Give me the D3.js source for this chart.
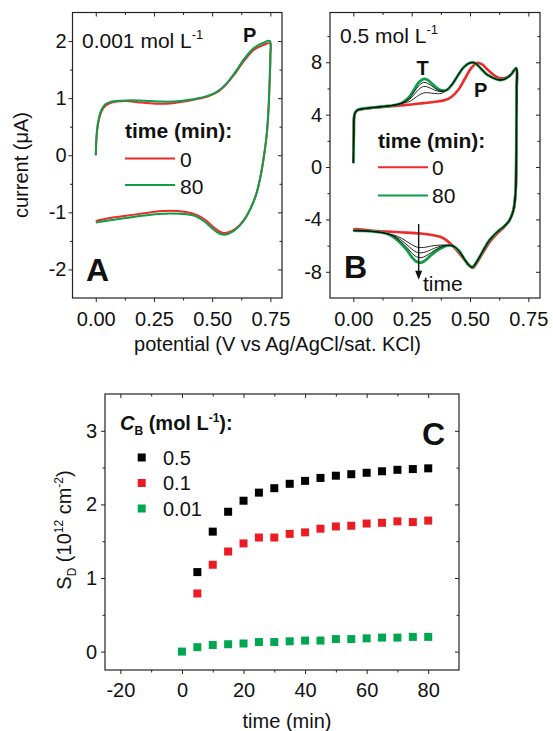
<!DOCTYPE html>
<html>
<head>
<meta charset="utf-8">
<script src="https://cdn.jsdelivr.net/npm/d3@7"></script>
<style>
body { margin: 0; background: #fff; }
svg { display: block; font-family: "Liberation Sans", Arial, sans-serif; }
</style>
</head>
<body>
<svg></svg>
<script>
var width = 553;
var height = 731;

// ---- panel A : 0.001 mol/L, [potential (V), current (uA)]
var aRed = [
  [0,0],[0.003,0.3],[0.008,0.5],[0.015,0.65],[0.025,0.77],[0.04,0.86],[0.06,0.91],[0.09,0.94],[0.13,0.95],[0.18,0.93],
  [0.23,0.91],[0.28,0.9],[0.33,0.91],[0.38,0.94],[0.43,0.98],[0.48,1.03],[0.52,1.1],[0.56,1.24],[0.6,1.44],[0.64,1.67],
  [0.68,1.85],[0.72,1.93],[0.748,1.96],
  [0.75,1.75],[0.747,1.3],[0.742,0.8],[0.734,0.35],[0.723,0],[0.708,-0.37],[0.69,-0.67],[0.665,-0.93],[0.635,-1.14],
  [0.6,-1.29],[0.57,-1.35],[0.548,-1.36],[0.525,-1.32],[0.5,-1.24],[0.47,-1.13],[0.43,-1.04],[0.38,-0.99],[0.32,-0.97],
  [0.27,-0.98],[0.2,-1.02],[0.13,-1.06],[0.06,-1.1],[0,-1.15]
];
var aGreen = [
  [0,0],[0.003,0.32],[0.008,0.53],[0.015,0.68],[0.025,0.8],[0.04,0.89],[0.06,0.93],[0.09,0.95],[0.13,0.96],[0.18,0.96],
  [0.23,0.95],[0.28,0.94],[0.33,0.94],[0.38,0.96],[0.43,0.99],[0.48,1.04],[0.52,1.11],[0.56,1.25],[0.6,1.46],[0.64,1.7],
  [0.68,1.88],[0.72,1.97],[0.748,2.0],
  [0.75,1.75],[0.747,1.3],[0.742,0.8],[0.734,0.35],[0.723,0],[0.707,-0.38],[0.689,-0.69],[0.663,-0.95],[0.633,-1.16],
  [0.598,-1.31],[0.568,-1.38],[0.545,-1.39],[0.522,-1.35],[0.497,-1.27],[0.467,-1.16],[0.43,-1.07],[0.38,-1.03],[0.32,-1.02],
  [0.27,-1.03],[0.2,-1.06],[0.13,-1.1],[0.06,-1.14],[0,-1.18]
];

// ---- panel B : 0.5 mol/L
var bRed = [
  [0,0.3],[0.002,2.5],[0.004,3.9],[0.01,4.2],[0.02,4.35],[0.05,4.45],[0.1,4.55],[0.15,4.62],[0.2,4.7],[0.25,4.78],
  [0.3,4.88],[0.35,4.98],[0.39,5.1],[0.42,5.35],[0.45,5.9],[0.48,6.8],[0.505,7.55],[0.53,7.95],[0.55,7.85],[0.575,7.45],
  [0.6,7.05],[0.625,6.8],[0.65,6.8],[0.675,7.05],[0.698,7.5],
  [0.7,6.0],[0.699,3],[0.698,0],[0.695,-2],[0.686,-3.3],[0.668,-4.1],[0.645,-4.6],[0.615,-5.1],[0.585,-5.7],[0.56,-6.4],
  [0.535,-7.15],[0.512,-7.7],[0.495,-7.45],[0.472,-7.0],[0.45,-6.5],[0.43,-6.1],[0.4,-5.6],[0.372,-5.33],[0.33,-5.17],
  [0.286,-5.07],[0.2,-4.98],[0.1,-4.88],[0.05,-4.8],[0.01,-4.74],[0,-4.8]
];
// shared parts of the later scans (green = 80 min, black = in between)
var bStart = [[0,0.3],[0.002,2.5],[0.004,3.9],[0.01,4.22],[0.02,4.37],[0.05,4.47],[0.1,4.57],[0.15,4.66],[0.19,4.78]];
var bMid = [
  [0.4,5.88],[0.425,6.35],[0.45,7.05],[0.475,7.65],[0.5,7.95],[0.52,7.95],[0.545,7.55],[0.57,7.1],[0.6,6.8],[0.625,6.65],
  [0.65,6.72],[0.675,7.05],[0.698,7.55],
  [0.7,6.0],[0.699,3],[0.698,0],[0.695,-2],[0.686,-3.3],[0.668,-4.1],[0.645,-4.55],[0.615,-4.98],[0.585,-5.55],[0.56,-6.25],
  [0.535,-7.05],[0.51,-7.65],[0.495,-7.5],[0.475,-7.0],[0.455,-6.45],[0.43,-6.05],[0.41,-5.98]
];
var bEnd = [[0.14,-5.07],[0.1,-4.95],[0.05,-4.88],[0,-4.85]];
// T wave, anodic and cathodic parts
var greenTF = [[0.215,4.98],[0.24,5.35],[0.26,5.9],[0.28,6.45],[0.3,6.72],[0.315,6.68],[0.335,6.4],[0.36,6.0],[0.38,5.84]];
var greenTR = [[0.387,-6.1],[0.36,-6.35],[0.335,-6.7],[0.31,-7.1],[0.29,-7.3],[0.27,-7.22],[0.25,-6.85],[0.23,-6.35],[0.205,-5.85],[0.175,-5.38]];
var black1TF = [[0.215,4.95],[0.24,5.25],[0.26,5.72],[0.28,6.2],[0.3,6.45],[0.315,6.42],[0.335,6.2],[0.36,5.9],[0.38,5.8]];
var black1TR = [[0.387,-6.05],[0.36,-6.25],[0.335,-6.52],[0.31,-6.8],[0.29,-6.92],[0.27,-6.85],[0.25,-6.55],[0.23,-6.15],[0.205,-5.72],[0.175,-5.32]];
var black2TF = [[0.215,4.92],[0.24,5.15],[0.26,5.52],[0.28,5.92],[0.3,6.15],[0.315,6.13],[0.335,5.98],[0.36,5.8],[0.38,5.76]];
var black2TR = [[0.387,-6.0],[0.36,-6.12],[0.335,-6.3],[0.31,-6.48],[0.29,-6.55],[0.27,-6.5],[0.25,-6.25],[0.23,-5.95],[0.205,-5.58],[0.175,-5.26]];
var black3TF = [[0.215,4.88],[0.24,5.0],[0.26,5.22],[0.28,5.48],[0.3,5.65],[0.315,5.68],[0.335,5.64],[0.36,5.6],[0.38,5.64]];
var black3TR = [[0.387,-5.95],[0.36,-5.97],[0.335,-6.03],[0.31,-6.12],[0.29,-6.15],[0.27,-6.1],[0.25,-5.92],[0.23,-5.7],[0.205,-5.42],[0.175,-5.2]];
var arrowB = [0.28, -4.35, -8.6]; // potential, start current, end current

var cvXTicks = [0, 0.25, 0.5, 0.75];
var cvXMinor = [0.125, 0.375, 0.625];
var aYTicks = [-2, -1, 0, 1, 2];
var aYMinor = [-1.5, -0.5, 0.5, 1.5];
var bYTicks = [-8, -4, 0, 4, 8];
var bYMinor = [-6, -2, 2, 6, 10];

// ---- panel C : S_D vs time
var timeC = [5,10,15,20,25,30,35,40,45,50,55,60,65,70,75,80];
var sd05 = [1.08,1.63,1.90,2.05,2.16,2.22,2.28,2.32,2.36,2.39,2.41,2.43,2.45,2.47,2.48,2.49];
var sd01 = [0.79,1.18,1.36,1.47,1.55,1.55,1.60,1.62,1.67,1.70,1.71,1.74,1.75,1.77,1.76,1.78];
var timeC001 = [0,5,10,15,20,25,30,35,40,45,50,55,60,65,70,75,80];
var sd001 = [0.0,0.06,0.09,0.10,0.11,0.13,0.13,0.14,0.15,0.15,0.17,0.17,0.18,0.19,0.19,0.20,0.20];
var cLegend = ["0.5", "0.1", "0.01"];
var cXTicks = [-20, 0, 20, 40, 60, 80];
var cXMinor = [-10, 10, 30, 50, 70];
var cYTicks = [0, 1, 2, 3];
var cYMinor = [0.5, 1.5, 2.5];

var red = "#ee2a2a";
var green = "#0f9d48";
var cRed = "#ec1c24";
var cGreen = "#00a651";

var svg = d3.select("svg")
            .attr("width", width)
            .attr("height", height);

svg.append("rect").attr("width", width).attr("height", height).attr("fill", "#fff");

function styleAxis(sel) {
    sel.select(".domain").remove();
    sel.attr("font-size", 20).attr("font-family", null);
    sel.selectAll("line").attr("stroke", "#222");
    sel.selectAll("text").attr("fill", "#111");
}

function addAxes(x, y, o) {
    var x0 = x.range()[0], x1 = x.range()[1];
    var y0 = y.range()[0], y1 = y.range()[1];
    var g = svg.append("g");
    g.append("g").attr("transform", "translate(0," + y0 + ")")
        .call(d3.axisBottom(x).tickValues(o.xMajor).tickFormat(o.xFmt).tickSize(4).tickPadding(o.padX).tickSizeOuter(0))
        .call(styleAxis);
    g.append("g").attr("transform", "translate(0," + y0 + ")")
        .call(d3.axisBottom(x).tickValues(o.xMinor).tickFormat("").tickSize(2.5).tickSizeOuter(0))
        .call(styleAxis);
    g.append("g").attr("transform", "translate(0," + y1 + ")")
        .call(d3.axisTop(x).tickValues(o.xMajor).tickFormat("").tickSize(-4).tickSizeOuter(0))
        .call(styleAxis);
    g.append("g").attr("transform", "translate(0," + y1 + ")")
        .call(d3.axisTop(x).tickValues(o.xMinor).tickFormat("").tickSize(-2.5).tickSizeOuter(0))
        .call(styleAxis);
    g.append("g").attr("transform", "translate(" + x0 + ",0)")
        .call(d3.axisLeft(y).tickValues(o.yMajor).tickFormat(o.yFmt).tickSize(4).tickPadding(o.padY).tickSizeOuter(0))
        .call(styleAxis);
    g.append("g").attr("transform", "translate(" + x0 + ",0)")
        .call(d3.axisLeft(y).tickValues(o.yMinor).tickFormat("").tickSize(2.5).tickSizeOuter(0))
        .call(styleAxis);
    g.append("g").attr("transform", "translate(" + x1 + ",0)")
        .call(d3.axisRight(y).tickValues(o.yMajor).tickFormat("").tickSize(-4).tickSizeOuter(0))
        .call(styleAxis);
    g.append("g").attr("transform", "translate(" + x1 + ",0)")
        .call(d3.axisRight(y).tickValues(o.yMinor).tickFormat("").tickSize(-2.5).tickSizeOuter(0))
        .call(styleAxis);
    g.append("rect")
        .attr("x", x0).attr("y", y1)
        .attr("width", x1 - x0).attr("height", y0 - y1)
        .attr("fill", "none").attr("stroke", "#222").attr("stroke-width", 1.2);
}

function label(x, y, txt, size, weight) {
    return svg.append("text")
        .attr("x", x).attr("y", y)
        .attr("font-size", size)
        .attr("font-weight", weight || "normal")
        .attr("fill", "#111")
        .text(txt);
}

var fmt2 = d3.format(".2f");
var fmtPlain = function(d){ return String(d); };

// ================= panel A
var xA = d3.scaleLinear().domain([-0.1, 0.8]).range([72.5, 282]);
var yA = d3.scaleLinear().domain([-2.5, 2.5]).range([298, 12.5]);

var lineA = d3.line()
    .x(function(d){ return xA(d[0]); })
    .y(function(d){ return yA(d[1]); })
    .curve(d3.curveCatmullRom.alpha(0.5));

svg.append("path").datum(aRed).attr("d", lineA)
    .attr("fill", "none").attr("stroke", red).attr("stroke-width", 2);
svg.append("path").datum(aGreen).attr("d", lineA)
    .attr("fill", "none").attr("stroke", green).attr("stroke-width", 2);

addAxes(xA, yA, {xMajor: cvXTicks, xMinor: cvXMinor, xFmt: fmt2, padX: 10,
                 yMajor: aYTicks, yMinor: aYMinor, yFmt: fmtPlain, padY: 2});

var tA = label(82, 48, "0.001 mol L", 21);
tA.append("tspan").attr("font-size", 13).attr("dy", -9).text("-1");
label(243, 42, "P", 20, "bold");
label(125, 137.5, "time (min):", 21, "bold");
svg.append("line").attr("x1", 125).attr("x2", 175).attr("y1", 158.5).attr("y2", 158.5)
    .attr("stroke", red).attr("stroke-width", 2);
label(180, 166.5, "0", 21);
svg.append("line").attr("x1", 125).attr("x2", 175).attr("y1", 185).attr("y2", 185)
    .attr("stroke", green).attr("stroke-width", 2);
label(180, 194, "80", 21);
label(86, 280.5, "A", 32, "bold");

svg.append("text")
    .attr("transform", "translate(28,165) rotate(-90)")
    .attr("text-anchor", "middle")
    .attr("font-size", 20)
    .attr("fill", "#111")
    .text("current (\u03bcA)");

// ================= panel B
var xB = d3.scaleLinear().domain([-0.1, 0.8]).range([330, 540]);
var yB = d3.scaleLinear().domain([-10, 11.8]).range([298, 12.5]);

var lineB = d3.line()
    .x(function(d){ return xB(d[0]); })
    .y(function(d){ return yB(d[1]); })
    .curve(d3.curveCatmullRom.alpha(0.5));

var bGreen = bStart.concat(greenTF, bMid, greenTR, bEnd);
var bBlack = [
    bStart.concat(black3TF, bMid, black3TR, bEnd),
    bStart.concat(black2TF, bMid, black2TR, bEnd),
    bStart.concat(black1TF, bMid, black1TR, bEnd)
];

svg.append("path").datum(bRed).attr("d", lineB)
    .attr("fill", "none").attr("stroke", red).attr("stroke-width", 2.6);
svg.append("path").datum(bGreen).attr("d", lineB)
    .attr("fill", "none").attr("stroke", green).attr("stroke-width", 2.8);
svg.selectAll(".blackcv")
    .data(bBlack)
    .enter().append("path")
    .attr("class", "blackcv")
    .attr("d", lineB)
    .attr("fill", "none").attr("stroke", "#111").attr("stroke-width", 0.9);

addAxes(xB, yB, {xMajor: cvXTicks, xMinor: cvXMinor, xFmt: fmt2, padX: 10,
                 yMajor: bYTicks, yMinor: bYMinor, yFmt: fmtPlain, padY: 4});

// arrow "time"
var ax = xB(arrowB[0]), ay1 = yB(arrowB[1]), ay2 = yB(arrowB[2]);
svg.append("line").attr("x1", ax).attr("x2", ax).attr("y1", ay1).attr("y2", ay2 - 6)
    .attr("stroke", "#111").attr("stroke-width", 1.4);
svg.append("path")
    .attr("d", "M" + (ax - 3.5) + "," + (ay2 - 9) + "L" + ax + "," + ay2 + "L" + (ax + 3.5) + "," + (ay2 - 9) + "Z")
    .attr("fill", "#111");
label(423, 290.5, "time", 21);

var tB = label(340, 43, "0.5 mol L", 21);
tB.append("tspan").attr("font-size", 13).attr("dy", -9).text("-1");
label(416.5, 75, "T", 20, "bold");
label(474, 96.5, "P", 20, "bold");
label(378, 147.5, "time (min):", 21, "bold");
svg.append("line").attr("x1", 378).attr("x2", 428).attr("y1", 167.3).attr("y2", 167.3)
    .attr("stroke", red).attr("stroke-width", 2);
label(432, 174.5, "0", 21);
svg.append("line").attr("x1", 378).attr("x2", 428).attr("y1", 195.5).attr("y2", 195.5)
    .attr("stroke", green).attr("stroke-width", 2);
label(432, 203, "80", 21);
label(344, 277.5, "B", 32, "bold");

svg.append("text")
    .attr("x", 277.5).attr("y", 351)
    .attr("text-anchor", "middle")
    .attr("font-size", 20)
    .attr("font-weight", "normal")
    .attr("fill", "#111")
    .text("potential (V vs Ag/AgCl/sat. KCl)");

// ================= panel C
var xC = d3.scaleLinear().domain([-25, 90]).range([105, 459]);
var yC = d3.scaleLinear().domain([-0.25, 3.5]).range([670, 394]);
var sq = 8;

var seriesC = [
    {t: timeC, v: sd05, color: "#000"},
    {t: timeC, v: sd01, color: cRed},
    {t: timeC001, v: sd001, color: cGreen}
];

seriesC.forEach(function(s){
    svg.selectAll(null)
        .data(s.v)
        .enter().append("rect")
        .attr("x", function(d, i){ return xC(s.t[i]) - sq/2; })
        .attr("y", function(d){ return yC(d) - sq/2; })
        .attr("width", sq)
        .attr("height", sq)
        .attr("fill", s.color);
});

addAxes(xC, yC, {xMajor: cXTicks, xMinor: cXMinor, xFmt: fmtPlain, padX: 9,
                 yMajor: cYTicks, yMinor: cYMinor, yFmt: fmtPlain, padY: 4});

var cl = svg.append("text").attr("x", 120).attr("y", 430)
    .attr("font-size", 20).attr("font-weight", "bold").attr("fill", "#111");
cl.append("tspan").attr("font-style", "italic").text("C");
cl.append("tspan").attr("font-size", 12).attr("dy", 5).text("B");
cl.append("tspan").attr("dy", -5).text(" (mol L");
cl.append("tspan").attr("font-size", 12).attr("dy", -8).text("-1");
cl.append("tspan").attr("dy", 8).text("):");

svg.selectAll(".legC")
    .data(cLegend)
    .enter().append("rect")
    .attr("class", "legC")
    .attr("x", 141.7 - sq/2)
    .attr("y", function(d, i){ return 457.5 + i * 25.5 - sq/2; })
    .attr("width", sq).attr("height", sq)
    .attr("fill", function(d, i){ return seriesC[i].color; });
svg.selectAll(".legCt")
    .data(cLegend)
    .enter().append("text")
    .attr("class", "legCt")
    .attr("x", 163)
    .attr("y", function(d, i){ return 464.5 + i * 25.5; })
    .attr("font-size", 20).attr("fill", "#111")
    .text(function(d){ return d; });

label(422, 445, "C", 32, "bold");

var cy = svg.append("text")
    .attr("transform", "translate(71,530) rotate(-90)")
    .attr("text-anchor", "middle")
    .attr("font-size", 20)
    .attr("fill", "#111");
cy.append("tspan").text("S");
cy.append("tspan").attr("font-size", 12).attr("dy", 5).text("D");
cy.append("tspan").attr("dy", -5).text(" (10");
cy.append("tspan").attr("font-size", 12).attr("dy", -8).text("12");
cy.append("tspan").attr("dy", 8).text(" cm");
cy.append("tspan").attr("font-size", 12).attr("dy", -8).text("-2");
cy.append("tspan").attr("dy", 8).text(")");

svg.append("text")
    .attr("x", 287).attr("y", 727.5)
    .attr("text-anchor", "middle")
    .attr("font-size", 20)
    .attr("font-weight", "normal")
    .attr("fill", "#111")
    .text("time (min)");
</script>
</body>
</html>
